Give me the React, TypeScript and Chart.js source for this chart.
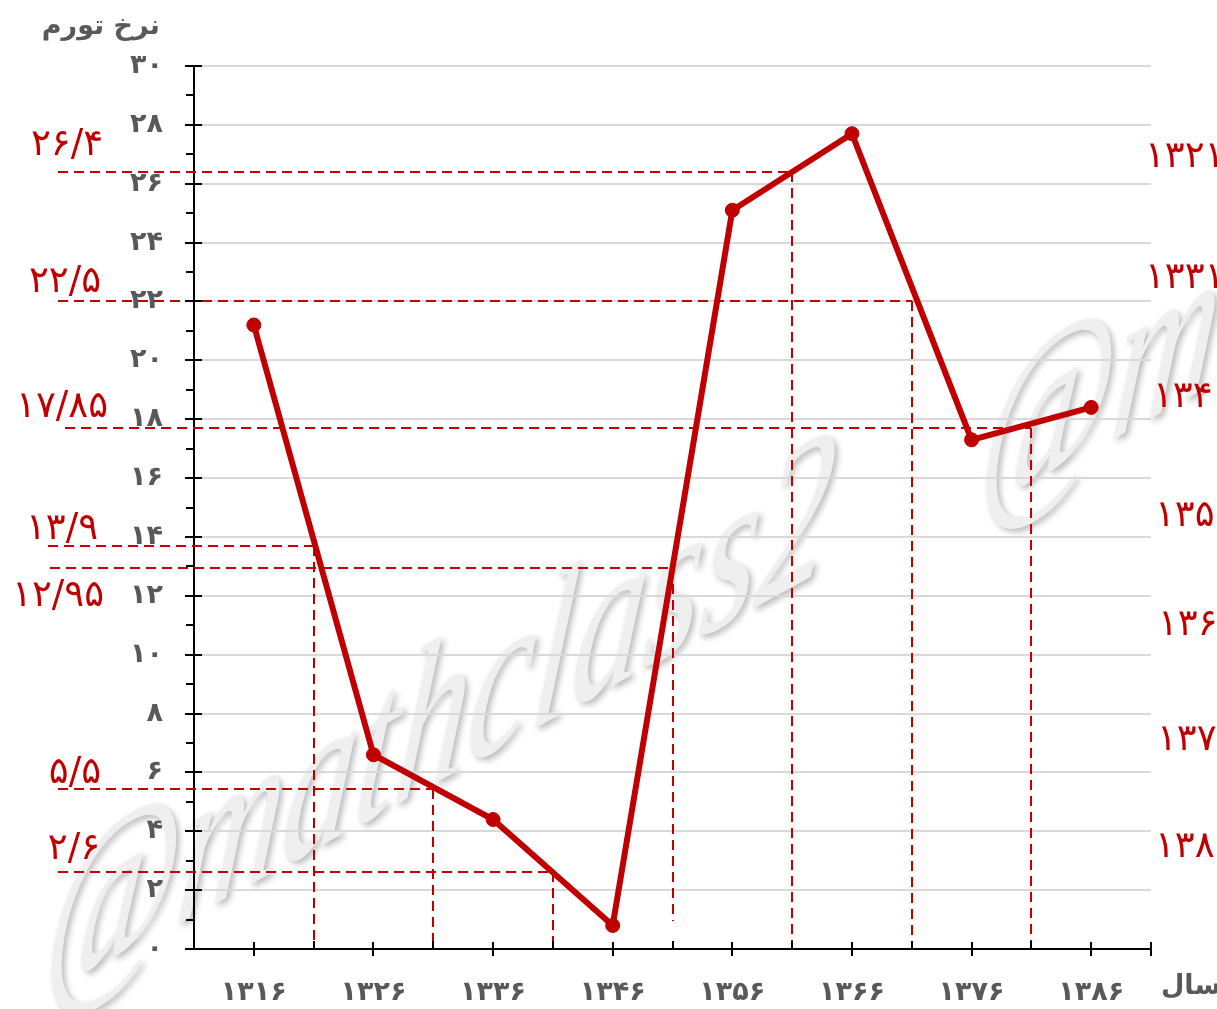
import React, { useEffect, useRef } from 'react';
import { Chart, registerables } from 'chart.js';

Chart.register(...registerables);

// ---- data ----
const years = [1316, 1326, 1336, 1346, 1356, 1366, 1376, 1386];
const inflation = [21.2, 6.6, 4.4, 0.8, 25.1, 27.7, 17.3, 18.4];
const midYears = [1321, 1331, 1341, 1351, 1361, 1371, 1381];
const midLevels = [13.7, 5.45, 2.6, 12.95, 26.4, 22.0, 17.7];
const midDropEnds = [0, 0, 0, 0.95, 0, 0, 0];
const midLabels = ['۱۳/۹', '۵/۵', '۲/۶', '۱۲/۹۵', '۲۶/۴', '۲۲/۵', '۱۷/۸۵'];
const sideYears = ['۱۳۲۱', '۱۳۳۱', '۱۳۴۱', '۱۳۵۱', '۱۳۶۱', '۱۳۷۱', '۱۳۸۱'];
const sideLevels = [26.9, 22.8, 18.75, 14.7, 11.0, 7.1, 3.45];
const faDigits = ['۰', '۱', '۲', '۳', '۴', '۵', '۶', '۷', '۸', '۹'];
const yTitle = 'نرخ تورم';
const xTitle = 'سال';
const watermark = '@mathclass2';

const toFa = (n: number | string) => String(n).replace(/\d/g, (d) => faDigits[+d]);

const RED = '#c00000';
const GRAY = '#595959';
const FA_FONT = '"DejaVu Sans", "Noto Sans", sans-serif';

// style-only offsets
const hStarts = [48, 58, 58, 50, 58, 58, 65];
const labelRight = [98, 101, 100, 104, 103, 101, 108];
const labelDy = [-16, -15, -23, 29, -27, -19, -21];
const sideDx = [-6, -6, 2, 4, 7, 6, 4];

function drawWatermark(ctx: CanvasRenderingContext2D, ox: number, oy: number) {
  ctx.save();
  ctx.translate(ox, oy);
  ctx.transform(1.02, -0.56, -0.17, 1.55, 0, 0);
  ctx.font = 'italic 142px "Liberation Serif", "DejaVu Serif", serif';
  ctx.textAlign = 'left';
  ctx.textBaseline = 'alphabetic';
  ctx.shadowColor = 'rgba(0,0,0,0.28)';
  ctx.shadowBlur = 6;
  ctx.shadowOffsetX = 3;
  ctx.shadowOffsetY = 3;
  ctx.fillStyle = '#efefef';
  ctx.fillText(watermark, 0, 0);
  ctx.restore();
}

const overlay = {
  id: 'overlay',
  beforeDraw(chart: any) {
    const ctx: CanvasRenderingContext2D = chart.ctx;
    drawWatermark(ctx, 40, 1000);
    drawWatermark(ctx, 975, 515);
  },
  beforeDatasetsDraw(chart: any) {
    const ctx: CanvasRenderingContext2D = chart.ctx;
    const xs = chart.scales.x;
    const ys = chart.scales.y;
    ctx.save();
    ctx.strokeStyle = RED;
    ctx.lineWidth = 2;
    ctx.setLineDash([10, 6]);
    midYears.forEach((yr, i) => {
      const px = Math.round(xs.getPixelForValue(yr));
      const py = Math.round(ys.getPixelForValue(midLevels[i]));
      ctx.beginPath();
      ctx.moveTo(hStarts[i], py);
      ctx.lineTo(px, py);
      ctx.stroke();
      ctx.beginPath();
      ctx.moveTo(px, py);
      ctx.lineTo(px, ys.getPixelForValue(midDropEnds[i]));
      ctx.stroke();
    });
    ctx.restore();
  },
  afterDraw(chart: any) {
    const ctx: CanvasRenderingContext2D = chart.ctx;
    const xs = chart.scales.x;
    const ys = chart.scales.y;
    const { left, bottom, right } = chart.chartArea;
    ctx.save();
    ctx.strokeStyle = '#000';
    ctx.lineWidth = 2;
    const line = (x1: number, y1: number, x2: number, y2: number) => {
      ctx.beginPath();
      ctx.moveTo(x1, y1);
      ctx.lineTo(x2, y2);
      ctx.stroke();
    };
    for (let v = 0; v <= 30; v++) {
      const py = Math.round(ys.getPixelForValue(v));
      if (v % 2 === 0) line(left - 9, py, left + 8, py);
      else line(left - 8, py, left, py);
    }
    line(left - 8, bottom, left, bottom);
    for (let v = 1316; v <= 1391; v += 5) {
      const px = Math.round(xs.getPixelForValue(v));
      if (years.includes(v) || v === 1391) line(px, bottom - 7, px, bottom + 7);
      else line(px, bottom - 8, px, bottom);
    }
    // red value labels
    ctx.fillStyle = RED;
    ctx.font = '37px ' + FA_FONT;
    ctx.textAlign = 'right';
    ctx.textBaseline = 'middle';
    midLabels.forEach((t, i) => {
      const py = ys.getPixelForValue(midLevels[i]);
      ctx.fillText(t, labelRight[i], py + labelDy[i]);
    });
    // side year labels
    ctx.textAlign = 'left';
    sideYears.forEach((t, i) => {
      ctx.fillText(t, right + sideDx[i], ys.getPixelForValue(sideLevels[i]));
    });
    // axis titles
    ctx.fillStyle = GRAY;
    ctx.font = 'bold 27px ' + FA_FONT;
    ctx.textAlign = 'right';
    ctx.fillText(yTitle, 160, 27);
    ctx.textAlign = 'center';
    ctx.fillText(xTitle, 1191, 987);
    ctx.restore();
  },
};

export default function App() {
  const ref = useRef<HTMLCanvasElement>(null);
  useEffect(() => {
    const canvas = ref.current;
    if (!canvas) return;
    const chart = new Chart(canvas, {
      type: 'line',
      data: {
        datasets: [
          {
            data: years.map((yr, i) => ({ x: yr, y: inflation[i] })),
            borderColor: RED,
            backgroundColor: RED,
            borderWidth: 6,
            pointRadius: 7,
            pointBackgroundColor: RED,
            pointBorderColor: RED,
            pointBorderWidth: 1,
            tension: 0,
            fill: false,
          },
        ],
      },
      options: {
        animation: false,
        responsive: false,
        devicePixelRatio: 1,
        layout: { padding: { top: 66, right: 66, left: 0, bottom: 0 } },
        plugins: { legend: { display: false }, tooltip: { enabled: false } },
        scales: {
          x: {
            type: 'linear',
            min: 1311,
            max: 1391,
            afterFit: (s: any) => {
              s.height = 60;
            },
            grid: { display: false, drawTicks: false },
            border: { display: true, color: '#000', width: 2 },
            ticks: {
              stepSize: 5,
              autoSkip: false,
              maxRotation: 0,
              padding: 28,
              color: GRAY,
              font: { family: FA_FONT, size: 27, weight: 'bold' },
              callback: (v: any) => (years.includes(Number(v)) ? toFa(v) : ''),
            },
          },
          y: {
            min: 0,
            max: 30,
            afterFit: (s: any) => {
              s.width = 194;
            },
            grid: { color: '#d9d9d9', lineWidth: 2, drawTicks: false },
            border: { display: true, color: '#000', width: 2 },
            ticks: {
              stepSize: 2,
              padding: 31,
              color: GRAY,
              font: { family: FA_FONT, size: 27, weight: 'bold' },
              callback: (v: any) => toFa(v),
            },
          },
        },
      },
      plugins: [overlay],
    } as any);
    return () => chart.destroy();
  }, []);
  return (
    <div style={{ position: 'fixed', left: 0, top: 0, width: 1217, height: 1009, background: '#fff' }}>
      <canvas ref={ref} width={1217} height={1009} style={{ display: 'block', width: 1217, height: 1009 }} />
    </div>
  );
}
